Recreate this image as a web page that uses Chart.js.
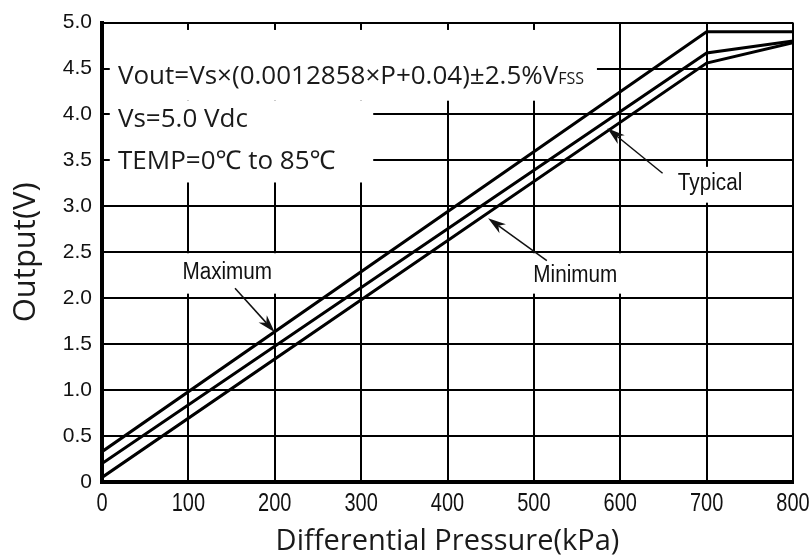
<!DOCTYPE html>
<html>
<head>
<meta charset="utf-8">
<script src="https://cdn.jsdelivr.net/npm/chart.js@4.4.1/dist/chart.umd.min.js"></script>
<style>
    html, body { margin: 0; padding: 0; background: #fff; }
    #wrap { width: 809px; height: 559px; }
</style>
</head>
<body>
<div id="wrap"><canvas id="outputChart"></canvas></div>
<script>
        // Curve values
        const pressure = [0, 700, 800];
        const maxOutput = [0.33, 4.90, 4.90];
        const typOutput = [0.20, 4.67, 4.80];
        const minOutput = [0.05, 4.56, 4.78];

        const xTickLabels = ['0', '100', '200', '300', '400', '500', '600', '700', '800'];
        const yTickLabels = ['0', '0.5', '1.0', '1.5', '2.0', '2.5', '3.0', '3.5', '4.0', '4.5', '5.0'];

        const TICK_FONT = '"Liberation Sans", Arial, sans-serif';
        const TEXT_FONT = '"Open Sans", "Noto Sans", sans-serif';

        // white boxes behind the texts, [xMin, xMax, yMin, yMax] in data units
        const maskBoxes = [
            [9, 573, 4.15, 4.92],
            [9, 314, 3.26, 4.15],
            [79, 212, 2.05, 2.49],
            [484, 611, 2.05, 2.49],
            [655, 752, 3.04, 3.43]
        ];

        const curveLabels = [
            { text: 'Maximum', x: 145, y: 2.28 },
            { text: 'Minimum', x: 548, y: 2.25 },
            { text: 'Typical', x: 704, y: 3.25 }
        ];

        // arrows: tail -> head, data units
        const arrows = [
            { from: [154, 2.11], to: [200, 1.63] },
            { from: [515, 2.41], to: [447, 2.87] },
            { from: [649, 3.36], to: [585, 3.85] }
        ];

        function toPoints(values) {
            return pressure.map((p, i) => ({ x: p, y: values[i] }));
        }

        // condensed text: squeeze horizontally around the anchor
        function narrowText(ctx, text, px, py, sx) {
            ctx.save();
            ctx.translate(px, py);
            ctx.scale(sx, 1);
            ctx.fillText(text, 0, 0);
            ctx.restore();
        }

        function drawArrow(ctx, x1, y1, x2, y2) {
            const ang = Math.atan2(y2 - y1, x2 - x1);
            const len = 18, half = 5.5;
            const cos = Math.cos(ang), sin = Math.sin(ang);
            ctx.beginPath();
            ctx.moveTo(x1, y1);
            ctx.lineTo(x2 - cos * len * 0.7, y2 - sin * len * 0.7);
            ctx.stroke();
            ctx.beginPath();
            ctx.moveTo(x2, y2);
            ctx.lineTo(x2 - cos * len + sin * half, y2 - sin * len - cos * half);
            ctx.lineTo(x2 - cos * len * 0.7, y2 - sin * len * 0.7);
            ctx.lineTo(x2 - cos * len - sin * half, y2 - sin * len + cos * half);
            ctx.closePath();
            ctx.fill();
        }

        const notesPlugin = {
            id: 'notes',
            beforeDatasetsDraw(chart) {
                const { ctx, chartArea, scales: { x, y } } = chart;
                ctx.save();
                ctx.fillStyle = '#fff';
                maskBoxes.forEach(b => {
                    const l = x.getPixelForValue(b[0]);
                    const r = x.getPixelForValue(b[1]);
                    const t = y.getPixelForValue(b[3]);
                    const bt = y.getPixelForValue(b[2]);
                    ctx.fillRect(l, t, r - l, bt - t);
                });

                // x tick labels (condensed face)
                ctx.fillStyle = '#111';
                ctx.font = '25px ' + TICK_FONT;
                ctx.textAlign = 'center';
                ctx.textBaseline = 'middle';
                x.ticks.forEach((t, i) => {
                    narrowText(ctx, xTickLabels[i], x.getPixelForTick(i), chartArea.bottom + 22, 0.8);
                });

                // formula block
                ctx.fillStyle = '#1a1a1a';
                ctx.textAlign = 'left';
                ctx.textBaseline = 'alphabetic';
                const left = x.getPixelForValue(18.5);
                ctx.font = '26px ' + TEXT_FONT;
                const line1 = 'Vout=Vs×(0.0012858×P+0.04)±2.5%V';
                ctx.fillText(line1, left, y.getPixelForValue(4.33));
                const w1 = ctx.measureText(line1).width;
                ctx.font = '16px ' + TEXT_FONT;
                ctx.fillText('FSS', left + w1, y.getPixelForValue(4.33));
                ctx.font = '26px ' + TEXT_FONT;
                ctx.fillText('Vs=5.0 Vdc', left, y.getPixelForValue(3.86));
                ctx.fillText('TEMP=0℃ to 85℃', left, y.getPixelForValue(3.41));

                // curve names
                ctx.fillStyle = '#111';
                ctx.font = '23px ' + TICK_FONT;
                ctx.textAlign = 'center';
                ctx.textBaseline = 'middle';
                curveLabels.forEach(l => {
                    narrowText(ctx, l.text, x.getPixelForValue(l.x), y.getPixelForValue(l.y), 0.9);
                });
                ctx.restore();
            },
            afterDatasetsDraw(chart) {
                const { ctx, scales: { x, y } } = chart;
                ctx.save();
                ctx.strokeStyle = '#111';
                ctx.fillStyle = '#111';
                ctx.lineWidth = 1.5;
                arrows.forEach(a => {
                    drawArrow(ctx,
                        x.getPixelForValue(a.from[0]), y.getPixelForValue(a.from[1]),
                        x.getPixelForValue(a.to[0]), y.getPixelForValue(a.to[1]));
                });
                ctx.restore();
            }
        };

        const lineStyle = {
            borderColor: '#000',
            borderWidth: 3,
            pointRadius: 0,
            fill: false,
            tension: 0
        };

        const ctx = document.getElementById('outputChart').getContext('2d');
        const outputChart = new Chart(ctx, {
            type: 'line',
            data: {
                datasets: [
                    { label: 'Maximum', data: toPoints(maxOutput), ...lineStyle },
                    { label: 'Typical', data: toPoints(typOutput), ...lineStyle },
                    { label: 'Minimum', data: toPoints(minOutput), ...lineStyle }
                ]
            },
            options: {
                responsive: true,
                maintainAspectRatio: false,
                animation: false,
                layout: { padding: { top: 22, right: 16, left: 0, bottom: 0 } },
                plugins: {
                    legend: { display: false },
                    tooltip: { enabled: false }
                },
                scales: {
                    x: {
                        type: 'linear',
                        min: 0,
                        max: 800,
                        afterFit: s => { s.height = 77; },
                        ticks: { stepSize: 100, display: false },
                        grid: { color: '#000', lineWidth: 2, drawTicks: false },
                        border: { display: true, color: '#000', width: 4 },
                        title: {
                            display: true,
                            text: 'Differential Pressure(kPa)',
                            color: '#1a1a1a',
                            font: { family: TEXT_FONT, size: 29 },
                            padding: { top: 0, bottom: 0 }
                        }
                    },
                    y: {
                        min: 0,
                        max: 5,
                        afterFit: s => { s.width = 102; },
                        ticks: {
                            stepSize: 0.5,
                            color: '#111',
                            padding: 10,
                            font: { family: TICK_FONT, size: 21 },
                            callback: (v, i) => yTickLabels[i]
                        },
                        grid: { color: '#000', lineWidth: 2, drawTicks: false },
                        border: { display: true, color: '#000', width: 4 },
                        title: {
                            display: true,
                            text: 'Output(V)',
                            color: '#1a1a1a',
                            font: { family: TEXT_FONT, size: 31 },
                            padding: { top: 8, bottom: 0 }
                        }
                    }
                }
            },
            plugins: [notesPlugin]
        });
</script>
</body>
</html>
